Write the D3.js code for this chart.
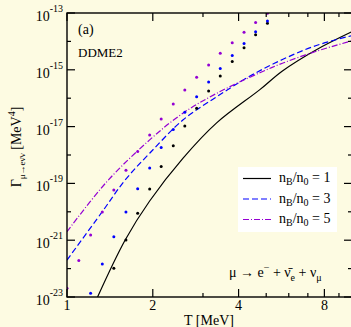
<!DOCTYPE html>
<html lang="en">
<head>
<meta charset="UTF-8">
<title>Gamma mu decay</title>
<style>
  body { margin: 0; background: #fdfbe2; }
  svg { display: block; font-family: "Liberation Serif", "Times New Roman", serif; }
</style>
</head>
<body>
<div id="main"></div>
<script src="https://cdn.jsdelivr.net/npm/d3@7"></script>
<script>
  // curves: T [MeV] and rate
  let curveT1 = [1.28, 1.6, 1.95, 2.55, 3.35, 4.75, 5.7, 7.5, 10]
  let curveG1 = [1e-23, 1.02e-21, 2.4e-20, 7.6e-19, 1.35e-17, 2.0e-16, 9.1e-16, 5.1e-15, 2.2e-14]
  let curveT3 = [1.0, 1.32, 1.6, 1.95, 2.55, 3.35, 4.37, 5.7, 7.5, 10]
  let curveG3 = [2.0e-22, 9.1e-21, 1.32e-19, 1.15e-18, 1.7e-17, 1.12e-16, 5.9e-16, 2.3e-15, 7.2e-15, 1.6e-14]
  let curveT5 = [1.0, 1.38, 1.95, 2.55, 3.35, 4.75, 5.7, 7.5, 10]
  let curveG5 = [2.0e-21, 1.15e-19, 3.4e-18, 2.95e-17, 1.48e-16, 7.9e-16, 1.7e-15, 4.5e-15, 1.05e-14]

  // dots
  let dotT = [1.0, 1.1, 1.21, 1.33, 1.46, 1.61, 1.77, 1.95, 2.14, 2.36, 2.59, 2.85, 3.14, 3.45, 3.80, 4.18, 4.59, 5.05]
  let dotG5 = [2.04e-23, 1.91e-22, 1.51e-21, 9.8e-21, 5.9e-20, 2.9e-19, 1.32e-18, 5.1e-18, 1.86e-17, 6.3e-17,
    1.95e-16, 5.5e-16, 1.48e-15, 3.8e-15, 8.9e-15, 2.1e-14, 4.6e-14, 9.8e-14]
  let dotG3 = [null, null, 1.35e-23, 1.45e-22, 1.32e-21, 9.8e-21, 6.5e-20, 3.5e-19, 1.82e-18, 7.9e-18,
    3.2e-17, 1.12e-16, 3.7e-16, 1.12e-15, 3.2e-15, 8.5e-15, 2.2e-14, 5.2e-14]
  let dotG1 = [null, null, null, null, 1.02e-22, 1.02e-21, 8.9e-21, 6.3e-20, 3.9e-19, 2.1e-18,
    1.05e-17, 4.4e-17, 1.78e-16, 6.0e-16, 1.95e-15, 6.0e-15, 1.7e-14, 4.4e-14]

  let xTicksMajor = [1, 2, 4, 8]
  let xTicksMinor = [3, 5, 6, 7, 9]
  let yExpMajor = [-23, -21, -19, -17, -15, -13]
  let yExpMinor = [-22, -20, -18, -16, -14]
  let legendLabels = ["1", "3", "5"]

  const W = 351, H = 327
  const pL = 67, pR = 352, pT = 13, pB = 297

  let svg = d3.select('#main').append('svg')
    .attr('width', W)
    .attr('height', H)

  svg.append('rect').attr('width', W).attr('height', H).attr('fill', '#fdfbe2')

  let x = d3.scaleLog().domain([1, 10]).range([pL, pR])
  let y = d3.scaleLog().domain([1e-23, 1e-13]).range([pB, pT])

  svg.append('clipPath').attr('id', 'clip')
    .append('rect').attr('x', pL).attr('y', pT).attr('width', pR - pL).attr('height', pB - pT)

  let plot = svg.append('g').attr('clip-path', 'url(#clip)')

  let series = [
    { t: curveT1, g: curveG1, dots: dotG1, color: '#000000', dash: null },
    { t: curveT3, g: curveG3, dots: dotG3, color: '#0000ff', dash: '6,3' },
    { t: curveT5, g: curveG5, dots: dotG5, color: '#9400d3', dash: '6,2,1,2' }
  ]

  let line = d3.line()
    .x(d => x(d[0]))
    .y(d => y(d[1]))
    .curve(d3.curveCatmullRom.alpha(0.5))

  series.forEach(s => {
    plot.append('path')
      .attr('d', line(d3.zip(s.t, s.g)))
      .attr('fill', 'none')
      .attr('stroke', s.color)
      .attr('stroke-width', 1.2)
      .attr('stroke-dasharray', s.dash)
  })

  series.forEach(s => {
    dotT.forEach((t, i) => {
      if (s.dots[i] == null) return
      plot.append('circle')
        .attr('cx', x(t))
        .attr('cy', y(s.dots[i]))
        .attr('r', 1.5)
        .attr('fill', s.color)
    })
  })

  // frame
  svg.append('rect')
    .attr('x', pL).attr('y', pT)
    .attr('width', pR - pL).attr('height', pB - pT)
    .attr('fill', 'none').attr('stroke', '#000').attr('stroke-width', 1.4)

  // ticks on all four sides, pointing inward
  function tick(x1, y1, x2, y2) {
    svg.append('line')
      .attr('x1', x1).attr('y1', y1).attr('x2', x2).attr('y2', y2)
      .attr('stroke', '#000').attr('stroke-width', 1.2)
  }
  xTicksMajor.forEach(v => { tick(x(v), pB, x(v), pB - 8); tick(x(v), pT, x(v), pT + 8) })
  xTicksMinor.forEach(v => { tick(x(v), pB, x(v), pB - 4); tick(x(v), pT, x(v), pT + 4) })
  yExpMajor.forEach(e => { let p = y(Math.pow(10, e)); tick(pL, p, pL + 8, p); tick(pR, p, pR - 8, p) })
  yExpMinor.forEach(e => { let p = y(Math.pow(10, e)); tick(pL, p, pL + 4, p); tick(pR, p, pR - 4, p) })

  // tick labels
  xTicksMajor.forEach(v => {
    svg.append('text')
      .attr('x', x(v)).attr('y', 310)
      .attr('text-anchor', 'middle')
      .attr('font-size', 14)
      .text(v)
  })
  yExpMajor.forEach(e => {
    let t = svg.append('text')
      .attr('x', 63).attr('y', y(Math.pow(10, e)) + 8)
      .attr('text-anchor', 'end')
      .attr('font-size', 14)
    t.append('tspan').text('10')
    t.append('tspan').attr('dy', -9).attr('font-size', 10).text(e)
  })

  // axis titles
  svg.append('text')
    .attr('x', 209).attr('y', 325)
    .attr('text-anchor', 'middle')
    .attr('font-size', 14)
    .text('T [MeV]')

  let yt = svg.append('text')
    .attr('transform', 'translate(21,147) rotate(-90)')
    .attr('text-anchor', 'middle')
    .attr('font-size', 14)
  yt.append('tspan').text('Γ')
  yt.append('tspan').attr('dy', 4).attr('font-size', 9).text('μ→eν\u0304ν')
  yt.append('tspan').attr('dy', -4).text(' [MeV')
  yt.append('tspan').attr('dy', -6).attr('font-size', 10).text('4')
  yt.append('tspan').attr('dy', 6).text(']')

  // annotations
  svg.append('text').attr('x', 78).attr('y', 34).attr('font-size', 14).text('(a)')
  svg.append('text').attr('x', 78).attr('y', 57).attr('font-size', 13).text('DDME2')

  let rx = svg.append('text').attr('x', 229).attr('y', 277).attr('font-size', 14)
  rx.append('tspan').text('μ → e')
  rx.append('tspan').attr('dy', -6).attr('font-size', 10).text('−')
  rx.append('tspan').attr('dy', 6).text(' + ν\u0304')
  rx.append('tspan').attr('dy', 4).attr('font-size', 10).text('e')
  rx.append('tspan').attr('dy', -4).text(' + ν')
  rx.append('tspan').attr('dy', 4).attr('font-size', 10).text('μ')

  // legend
  svg.append('rect')
    .attr('x', 238).attr('y', 167).attr('width', 99).attr('height', 65)
    .attr('fill', '#ffffff')
  series.forEach((s, i) => {
    let ly = 178.5 + i * 20.5
    svg.append('line')
      .attr('x1', 243).attr('x2', 271).attr('y1', ly).attr('y2', ly)
      .attr('stroke', s.color).attr('stroke-width', 1.2)
      .attr('stroke-dasharray', s.dash)
    let t = svg.append('text').attr('x', 279).attr('y', ly + 3.5).attr('font-size', 14)
    t.append('tspan').text('n')
    t.append('tspan').attr('dy', 3).attr('font-size', 10).text('B')
    t.append('tspan').attr('dy', -3).text('/n')
    t.append('tspan').attr('dy', 3).attr('font-size', 10).text('0')
    t.append('tspan').attr('dy', -3).text(' = ' + legendLabels[i])
  })
</script>
</body>
</html>
